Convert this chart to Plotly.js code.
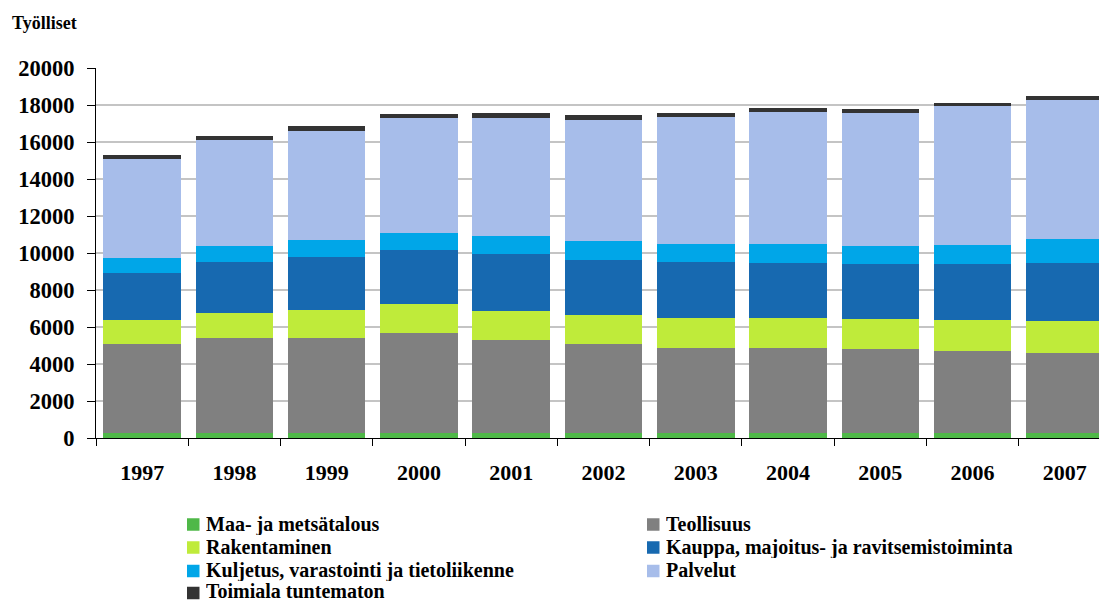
<!DOCTYPE html>
<html>
<head>
<meta charset="utf-8">
<script src="https://cdn.plot.ly/plotly-3.0.1.min.js"></script>
<style>html,body{margin:0;padding:0;overflow:hidden;background:#fff}</style>
</head>
<body>
<div id="chart" style="width:1099px;height:601px"></div>
<script>
const years = ['1997','1998','1999','2000','2001','2002','2003','2004','2005','2006','2007'];
const maa        = [250, 250, 250, 280, 280, 280, 250, 250, 250, 250, 250];
const teollisuus = [4850, 5170, 5170, 5410, 5030, 4820, 4630, 4630, 4575, 4470, 4360];
const rakentaminen = [1300, 1350, 1515, 1570, 1570, 1570, 1620, 1620, 1620, 1675, 1730];
const kauppa     = [2540, 2760, 2865, 2920, 3080, 2970, 3030, 2975, 2975, 3030, 3135];
const kuljetus   = [810, 865, 920, 920, 975, 1030, 970, 1030, 975, 1030, 1300];
const palvelut   = [5350, 5730, 5890, 6215, 6380, 6540, 6865, 7135, 7190, 7510, 7510];
const tuntematon = [220, 215, 270, 215, 270, 270, 215, 215, 215, 160, 215];
const yTicks = [0, 2000, 4000, 6000, 8000, 10000, 12000, 14000, 16000, 18000, 20000];

const seriesNames = ['Maa- ja metsätalous','Teollisuus','Rakentaminen','Kauppa, majoitus- ja ravitsemistoiminta','Kuljetus, varastointi ja tietoliikenne','Palvelut','Toimiala tuntematon'];
const seriesValues = [maa, teollisuus, rakentaminen, kauppa, kuljetus, palvelut, tuntematon];
const colors = ['#4fb848','#808080','#bfeb3a','#1769b0','#00a6e8','#a7bdea','#333333'];

const traces = seriesNames.map((n, i) => ({
  type: 'bar', name: n, x: years, y: seriesValues[i],
  marker: {color: colors[i], line: {width: 0}},
  hoverinfo: 'x+y+name', showlegend: false
}));

const FAM = 'Liberation Serif';
const bold = {family: FAM, color: '#000', weight: 'bold'};

// plot area in pixels
const M = {l: 96, r: 0, t: 68, b: 163};
const W = 1099, H = 601;
const PW = W - M.l - M.r, PH = H - M.t - M.b;
const px2x = p => (p - M.l) / PW;
const px2y = p => (H - M.b - p) / PH;

// legend (two columns, drawn as annotations + swatches)
const colX = [187, 647];
const swatchY = [524.5, 547.5, 571, 593];
const textY = [523.5, 546.5, 569.5, 590.5];
const textH = [22, 22, 22, 20];
const sw = 12.5;
const annotations = [];
const shapes = [];
seriesNames.forEach((n, i) => {
  const c = i % 2, r = Math.floor(i / 2);
  const x0 = colX[c], yc = swatchY[r];
  shapes.push({type: 'rect', xref: 'paper', yref: 'paper',
    x0: px2x(x0), x1: px2x(x0 + sw), y0: px2y(yc + sw / 2), y1: px2y(yc - sw / 2),
    fillcolor: colors[i], line: {width: 0}});
  annotations.push({xref: 'paper', yref: 'paper', x: px2x(x0 + sw + 5), y: px2y(textY[r]),
    xanchor: 'left', yanchor: 'middle', showarrow: false, text: n,
    height: textH[r], borderpad: 0,
    font: Object.assign({}, bold, {size: 20})});
});

const layout = {
  width: W, height: H,
  font: {family: FAM, color: '#000', weight: 'bold'},
  margin: {l: M.l, r: M.r, t: M.t, b: M.b, autoexpand: false},
  barmode: 'stack', bargap: 0.16,
  paper_bgcolor: '#fff', plot_bgcolor: '#fff',
  title: {text: 'Työlliset', font: Object.assign({}, bold, {size: 18}), xref: 'container', yref: 'container', x: 0.011, xanchor: 'left', y: 0.962, yanchor: 'middle'},
  xaxis: {
    type: 'category', range: [-0.5, 10.37],
    showline: true, linecolor: '#000', linewidth: 1.2,
    ticks: 'outside', tickson: 'boundaries', ticklen: 7, tickcolor: '#000', tickwidth: 1.2,
    tickfont: Object.assign({}, bold, {size: 22}), ticklabelstandoff: 14,
    showgrid: false, zeroline: false, fixedrange: true
  },
  yaxis: {
    range: [0, 20000], tickvals: yTicks, ticktext: yTicks.map(String),
    showline: true, linecolor: '#000', linewidth: 1.2,
    ticks: 'outside', ticklen: 8, tickcolor: '#000', tickwidth: 1.2,
    tickfont: Object.assign({}, bold, {size: 22.5}), ticklabelstandoff: 8,
    showgrid: true, gridcolor: '#c4c4c4', gridwidth: 1.5, zeroline: false, fixedrange: true
  },
  showlegend: false,
  annotations: annotations,
  shapes: shapes
};

Plotly.newPlot('chart', traces, layout, {displayModeBar: false});
</script>
</body>
</html>
